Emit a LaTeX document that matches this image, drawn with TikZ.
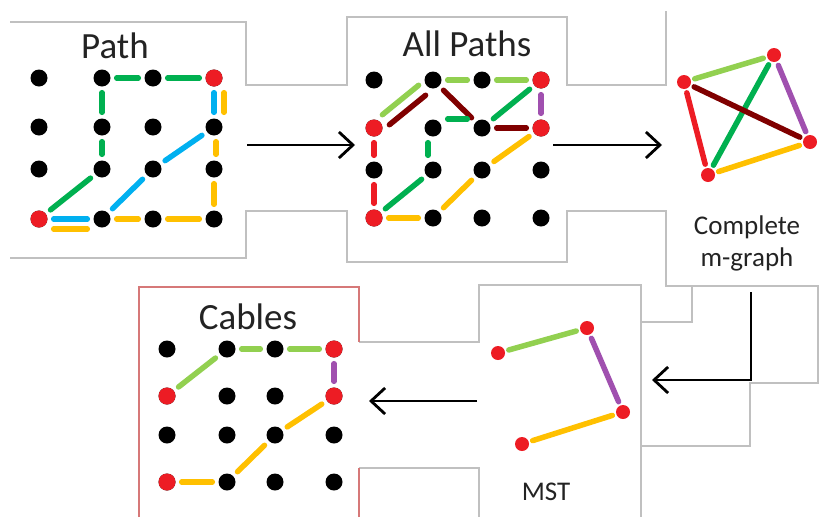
\documentclass[tikz,border=0pt]{standalone}
\usepackage{fontspec}
\setmainfont{Carlito}
\usetikzlibrary{arrows.meta}

\definecolor{lgreen}{RGB}{146,208,80}
\definecolor{dgreen}{RGB}{0,176,80}
\definecolor{cblue}{RGB}{0,176,240}
\definecolor{cyellow}{RGB}{255,192,0}
\definecolor{cred}{RGB}{237,28,36}
\definecolor{maroon}{RGB}{128,0,0}
\definecolor{cpurple}{RGB}{160,80,175}
\definecolor{frame}{RGB}{192,192,192}
\definecolor{rframe}{RGB}{214,120,120}
\definecolor{ink}{RGB}{35,35,35}

\begin{document}
\begin{tikzpicture}[
    x=1pt, y=-1pt,
    dot/.style={circle, fill=black, minimum size=17pt, inner sep=0pt},
    rdot/.style={circle, fill=cred, minimum size=14pt, inner sep=0pt},
    link/.style={line width=5.5pt, line cap=round, shorten <=6pt, shorten >=6pt},
    klink/.style={line width=5.5pt, line cap=round, shorten <=4pt, shorten >=4pt},
    box/.style={draw=frame, line width=1.5pt},
    rbox/.style={draw=rframe, line width=1.5pt},
    title/.style={font=\fontsize{37}{40}\selectfont, text=ink, anchor=base},
    caption/.style={font=\fontsize{27}{32}\selectfont, text=ink, align=center},
    flow/.style={line width=2.8pt, -{Straight Barb[length=14pt, width=26pt, line width=2.8pt]}}
]
    \useasboundingbox (0,0) rectangle (819,517);

    % Frames left over from the screenshot
    \draw[box] (10,22) -- (246,22) -- (246,85) -- (347,85) -- (347,17) -- (567,17)
        -- (567,85) -- (666,85) -- (666,11);
    \draw[box] (10,258) -- (246,258) -- (246,211) -- (347,211) -- (347,262) -- (567,262)
        -- (567,211) -- (666,211) -- (666,286) -- (818,286) -- (818,383) -- (750,383)
        -- (750,446) -- (641,446);
    \draw[box] (359,342) -- (479,342) -- (479,285) -- (641,285) -- (641,517);
    \draw[box] (641,322) -- (692,322) -- (692,286);
    \draw[box] (359,468) -- (479,468) -- (479,517);
    \draw[rbox] (139,517) -- (139,287) -- (359,287) -- (359,342);
    \draw[rbox] (359,517) -- (359,468);

    % Titles
    \node[title] (tpath) at (115,58) {Path};
    \node[title] (tall) at (467,56) {All Paths};
    \node[title] (tcab) at (248,329) {Cables};
    \node[caption] (tcm) at (747,243) {Complete\\m-graph};
    \node[caption, anchor=base] (tmst) at (546,500) {MST};

    % Grid of the first panel
    \foreach \x [count=\i] in {39,102,153,214}
        \foreach \y [count=\j] in {78,127,169,219}
            \node[dot] (a\i\j) at (\x,\y) {};
    \foreach \n in {a41,a14}
        \fill[cred] (\n) circle (8.5pt);

    \draw[link, dgreen] (a21) -- (a31);
    \draw[link, dgreen] (a31) -- (a41);
    \draw[link, dgreen] (a21) -- (a22);
    \draw[link, dgreen] (a22) -- (a23);
    \draw[link, dgreen] (a23) -- (a14);
    \draw[link, cblue] (a41) -- (a42);
    \draw[link, cblue] (a42) -- (a33);
    \draw[link, cblue] (a33) -- (a24);
    \draw[link, cblue] (a24) -- (a14);
    \draw[link, cyellow, transform canvas={xshift=10pt}] (a41) -- (a42);
    \draw[link, cyellow, transform canvas={xshift=2pt}] (a42) -- (a43);
    \draw[link, cyellow] (a43) -- (a44);
    \draw[link, cyellow] (a44) -- (a34);
    \draw[link, cyellow] (a34) -- (a24);
    \draw[link, cyellow, transform canvas={yshift=-10pt}] (a24) -- (a14);

    % Grid of the second panel
    \foreach \x [count=\i] in {374,433,482,541}
        \foreach \y [count=\j] in {80,128,170,218}
            \node[dot] (b\i\j) at (\x,\y) {};
    \foreach \n in {b41,b12,b42,b14}
        \fill[cred] (\n) circle (8.5pt);

    \draw[link, lgreen, transform canvas={xshift=-3pt, yshift=4pt}] (b12) -- (b21);
    \draw[link, lgreen] (b21) -- (b31);
    \draw[link, lgreen] (b31) -- (b41);
    \draw[link, maroon, transform canvas={xshift=4pt, yshift=-6pt}] (b12) -- (b21);
    \draw[link, maroon] (b21) -- (b32);
    \draw[link, maroon] (b32) -- (b42);
    \draw[link, cpurple] (b41) -- (b42);
    \draw[link, dgreen] (b41) -- (b32);
    \draw[link, dgreen, transform canvas={yshift=9pt}] (b32) -- (b22);
    \draw[link, dgreen, transform canvas={xshift=-5pt}] (b22) -- (b23);
    \draw[link, dgreen] (b23) -- (b14);
    \draw[link, cred] (b12) -- (b13);
    \draw[link, cred] (b13) -- (b14);
    \draw[link, cyellow] (b14) -- (b24);
    \draw[link, cyellow] (b24) -- (b33);
    \draw[link, cyellow] (b33) -- (b42);

    % Complete graph
    \node[rdot] (k1) at (684,82) {};
    \node[rdot] (k2) at (774,55) {};
    \node[rdot] (k3) at (810,142) {};
    \node[rdot] (k4) at (708,175) {};
    \draw[klink, lgreen] (k1) -- (k2);
    \draw[klink, cpurple] (k2) -- (k3);
    \draw[klink, cyellow] (k4) -- (k3);
    \draw[klink, cred] (k1) -- (k4);
    \draw[klink, dgreen] (k4) -- (k2);
    \draw[klink, maroon] (k1) -- (k3);

    % Spanning tree
    \node[rdot] (m1) at (498,353) {};
    \node[rdot] (m2) at (587,328) {};
    \node[rdot] (m3) at (623,412) {};
    \node[rdot] (m4) at (522,444) {};
    \draw[klink, lgreen] (m1) -- (m2);
    \draw[klink, cpurple] (m2) -- (m3);
    \draw[klink, cyellow] (m4) -- (m3);

    % Grid of the cables panel
    \foreach \x [count=\i] in {167,227,275,334}
        \foreach \y [count=\j] in {349,396,435,482}
            \node[dot] (c\i\j) at (\x,\y) {};
    \foreach \n in {c41,c12,c42,c14}
        \fill[cred] (\n) circle (8.5pt);

    \draw[link, lgreen] (c12) -- (c21);
    \draw[link, lgreen] (c21) -- (c31);
    \draw[link, lgreen] (c31) -- (c41);
    \draw[link, cpurple] (c41) -- (c42);
    \draw[link, cyellow] (c42) -- (c33);
    \draw[link, cyellow] (c33) -- (c24);
    \draw[link, cyellow] (c24) -- (c14);

    % Arrows between the steps
    \coordinate (s1) at (247,145);
    \coordinate (e1) at (355,145);
    \coordinate (s2) at (553,145);
    \coordinate (e2) at (662,145);
    \coordinate (s3) at (751,292);
    \coordinate (e3) at (652,380);
    \coordinate (s4) at (477,401);
    \coordinate (e4) at (369,401);
    \draw[flow] (s1) -- (e1);
    \draw[flow] (s2) -- (e2);
    \draw[flow] (s3) |- (e3);
    \draw[flow] (s4) -- (e4);

\end{tikzpicture}
\end{document}
